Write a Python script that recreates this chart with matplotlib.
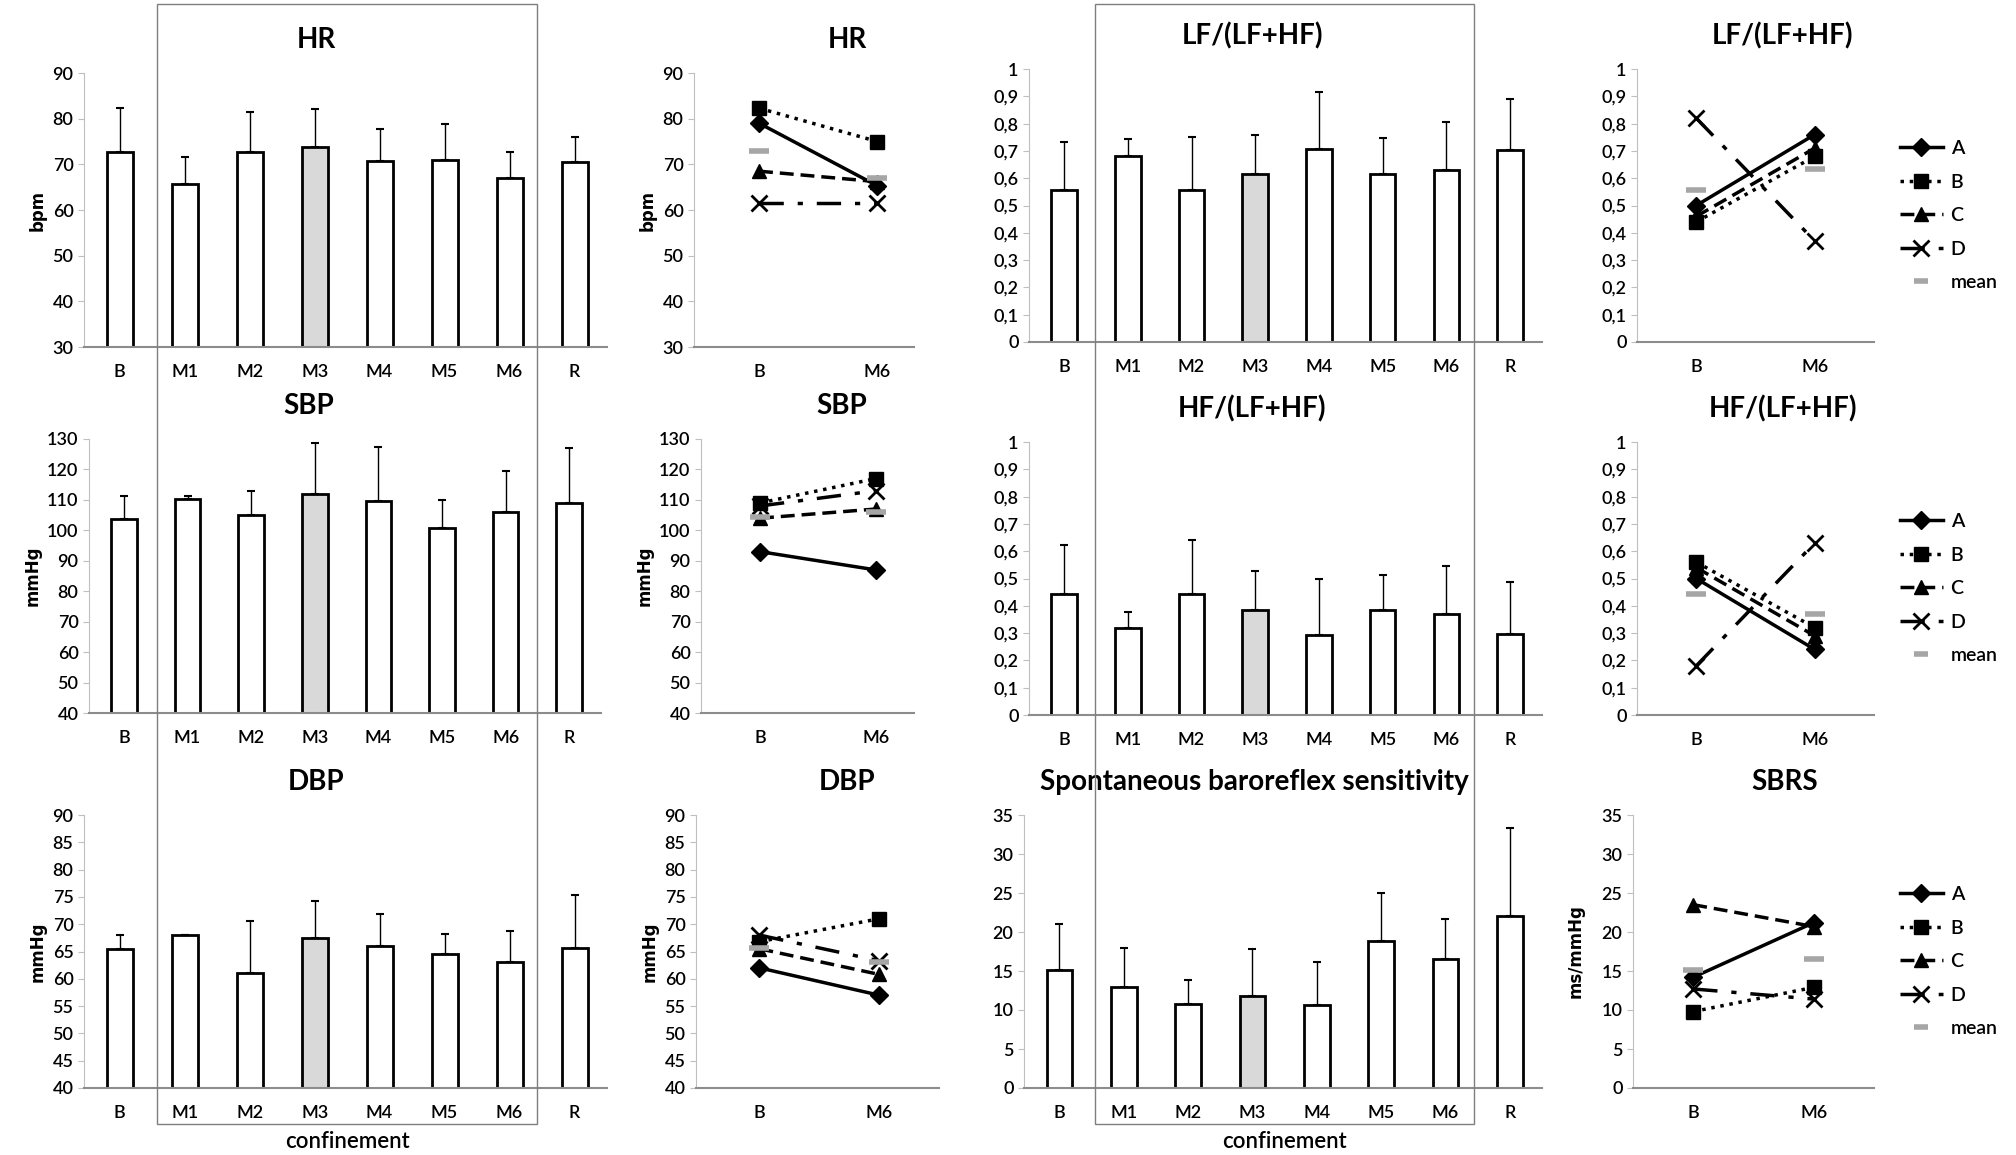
import matplotlib
matplotlib.use("Agg")
import matplotlib.pyplot as plt
from matplotlib.lines import Line2D
from matplotlib.patches import Rectangle

plt.rcParams['font.family'] = ['Lato', 'DejaVu Sans']

# ---- data ----
periods = ["B", "M1", "M2", "M3", "M4", "M5", "M6", "R"]
pair = ["B", "M6"]

hr_mean = [72.8, 65.7, 72.7, 73.7, 70.8, 71.0, 67.0, 70.6]
hr_top = [82.3, 71.5, 81.5, 82.1, 77.7, 78.9, 72.6, 75.9]
sbp_mean = [103.8, 110.3, 105.0, 112.0, 109.5, 100.7, 106.0, 109.0]
sbp_top = [111.2, 111.3, 112.9, 128.6, 127.3, 109.8, 119.4, 127.0]
dbp_mean = [65.5, 68.0, 61.0, 67.5, 66.0, 64.5, 63.0, 65.7]
dbp_top = [68.0, 68.1, 70.6, 74.2, 71.9, 68.2, 68.8, 75.3]
lf_mean = [0.555, 0.683, 0.555, 0.616, 0.708, 0.616, 0.630, 0.702]
lf_top = [0.733, 0.745, 0.752, 0.760, 0.914, 0.747, 0.807, 0.891]
hf_mean = [0.445, 0.317, 0.445, 0.384, 0.292, 0.384, 0.369, 0.298]
hf_top = [0.623, 0.378, 0.642, 0.527, 0.499, 0.513, 0.547, 0.489]
sbrs_mean = [15.1, 12.9, 10.8, 11.8, 10.6, 18.8, 16.6, 22.0]
sbrs_top = [21.0, 17.9, 13.8, 17.8, 16.1, 25.0, 21.7, 33.3]

subjects = ["A", "B", "C", "D"]
hr_subj = {"A": [79.0, 65.3], "B": [82.3, 75.0], "C": [68.5, 66.2], "D": [61.6, 61.6]}
hr_avg = [73.0, 67.1]
sbp_subj = {"A": [93.0, 87.0], "B": [109.0, 117.0], "C": [104.0, 107.0], "D": [108.0, 113.0]}
sbp_avg = [104.3, 106.0]
dbp_subj = {"A": [62.0, 57.0], "B": [66.8, 71.0], "C": [65.5, 60.8], "D": [68.0, 63.3]}
dbp_avg = [65.7, 63.1]
lf_subj = {"A": [0.50, 0.76], "B": [0.44, 0.68], "C": [0.46, 0.71], "D": [0.82, 0.37]}
lf_avg = [0.556, 0.633]
hf_subj = {"A": [0.50, 0.24], "B": [0.56, 0.32], "C": [0.54, 0.29], "D": [0.18, 0.63]}
hf_avg = [0.445, 0.37]
sbrs_subj = {"A": [14.2, 21.2], "B": [9.8, 12.9], "C": [23.5, 20.7], "D": [12.7, 11.4]}
sbrs_avg = [15.1, 16.6]

frac_ticks = [0, 0.1, 0.2, 0.3, 0.4, 0.5, 0.6, 0.7, 0.8, 0.9, 1]
frac_labels = ["0", "0,1", "0,2", "0,3", "0,4", "0,5", "0,6", "0,7", "0,8", "0,9", "1"]

styles = {
    "A": dict(marker="D", linestyle="-", markersize=9),
    "B": dict(marker="s", linestyle=":", markersize=10),
    "C": dict(marker="^", linestyle=(0, (4, 2)), markersize=10),
    "D": dict(marker="x", linestyle=(0, (7, 4, 1.5, 4)), markersize=12, markeredgewidth=2),
}

W, H = 2016, 1155
fig = plt.figure(figsize=(W / 100, H / 100), dpi=100)
GRAY = "#8c8c8c"


def make_ax(l, t, r, b):
    return fig.add_axes([l / W, 1 - b / H, (r - l) / W, (b - t) / H])


def style_ax(ax, title, tx, ylim, yticks, ylabels, ylabel):
    ax.set_ylim(*ylim)
    ax.set_yticks(yticks)
    ax.set_yticklabels(ylabels if ylabels else [str(v) for v in yticks])
    for s in ["top", "right"]:
        ax.spines[s].set_visible(False)
    ax.spines["left"].set_color("#bfbfbf")
    ax.spines["bottom"].set_color(GRAY)
    ax.spines["bottom"].set_linewidth(1.5)
    ax.spines["bottom"].set_zorder(5)
    ax.tick_params(axis="y", colors="#bfbfbf", labelcolor="black", labelsize=13, length=4)
    ax.tick_params(axis="x", length=0, labelsize=13, pad=12)
    for lbl in ax.get_xticklabels() + ax.get_yticklabels():
        lbl.set_fontweight("semibold")
    ax.set_title(title, x=tx, pad=18, fontsize=20, fontweight="bold")
    if ylabel:
        ax.set_ylabel(ylabel, fontsize=12, fontweight="bold", family="DejaVu Sans", labelpad=4)


def bar_panel(rect, means, tops, title, tx, ylim, yticks, ylabels=None, ylabel=None):
    ax = make_ax(*rect)
    x = list(range(len(periods)))
    colors = ["#d9d9d9" if p == "M3" else "white" for p in periods]
    ax.bar(x, [m - ylim[0] for m in means], bottom=ylim[0], width=0.4,
           color=colors, edgecolor="black", linewidth=2)
    ax.errorbar(x, means, yerr=[[0] * len(means), [t - m for t, m in zip(tops, means)]],
                fmt="none", ecolor="black", elinewidth=1, capsize=3, capthick=1.5)
    ax.set_xticks(x)
    ax.set_xticklabels(periods)
    ax.set_xlim(-0.55, 7.5)
    style_ax(ax, title, tx, ylim, yticks, ylabels, ylabel)
    return ax


def line_panel(rect, subj, avg, title, tx, ylim, yticks, xlim, ylabels=None, ylabel=None):
    ax = make_ax(*rect)
    x = [0, 1]
    for s in subjects:
        ax.plot(x, subj[s], color="black", linewidth=2.5, **styles[s])
    ax.plot(x, avg, linestyle="none", marker="_", markersize=14, markeredgewidth=4,
            color="#a6a6a6")
    ax.set_xticks(x)
    ax.set_xticklabels(pair)
    ax.set_xlim(*xlim)
    style_ax(ax, title, tx, ylim, yticks, ylabels, ylabel)
    return ax


def add_legend(top_px):
    handles = [Line2D([], [], color="black", linewidth=2.5, **styles[s]) for s in subjects]
    handles.append(Line2D([], [], linestyle="none", marker="_", markersize=10,
                          markeredgewidth=4, color="#a6a6a6"))
    leg = fig.legend(handles, subjects + ["mean"], loc="upper left",
                     bbox_to_anchor=(1900 / W, 1 - top_px / H), frameon=False,
                     fontsize=14, handlelength=2.2, labelspacing=0.85, handletextpad=0.4,
                     borderaxespad=0, borderpad=0)
    for t in leg.get_texts():
        t.set_fontweight("semibold")


# row 1
bar_panel((84, 73, 607, 347), hr_mean, hr_top, "HR", 0.445, (30, 90), list(range(30, 91, 10)), ylabel="bpm")
line_panel((694, 73, 914, 347), hr_subj, hr_avg, "HR", 0.695, (30, 90), list(range(30, 91, 10)),
           (-0.55, 1.31), ylabel="bpm")
bar_panel((1029, 69, 1542, 342), lf_mean, lf_top, "LF/(LF+HF)", 0.435, (0, 1), frac_ticks, frac_labels)
line_panel((1637, 69, 1874, 342), lf_subj, lf_avg, "LF/(LF+HF)", 0.616, (0, 1), frac_ticks,
           (-0.5, 1.5), frac_labels)
add_legend(140)

# row 2
bar_panel((89, 439, 601, 713), sbp_mean, sbp_top, "SBP", 0.43, (40, 130), list(range(40, 131, 10)), ylabel="mmHg")
line_panel((701, 439, 914, 713), sbp_subj, sbp_avg, "SBP", 0.66, (40, 130), list(range(40, 131, 10)),
           (-0.51, 1.33), ylabel="mmHg")
bar_panel((1029, 442, 1542, 715), hf_mean, hf_top, "HF/(LF+HF)", 0.435, (0, 1), frac_ticks, frac_labels)
line_panel((1637, 442, 1874, 715), hf_subj, hf_avg, "HF/(LF+HF)", 0.616, (0, 1), frac_ticks,
           (-0.5, 1.5), frac_labels)
add_legend(513)

# row 3
bar_panel((84, 815, 607, 1088), dbp_mean, dbp_top, "DBP", 0.444, (40, 90), list(range(40, 91, 5)), ylabel="mmHg")
line_panel((696, 815, 939, 1088), dbp_subj, dbp_avg, "DBP", 0.62, (40, 90), list(range(40, 91, 5)),
           (-0.53, 1.5), ylabel="mmHg")
bar_panel((1024, 815, 1542, 1088), sbrs_mean, sbrs_top, "Spontaneous baroreflex sensitivity", 0.444,
          (0, 35), list(range(0, 36, 5)))
line_panel((1633, 815, 1874, 1088), sbrs_subj, sbrs_avg, "SBRS", 0.63, (0, 35), list(range(0, 36, 5)),
           (-0.5, 1.5), ylabel="ms/mmHg")
add_legend(886)
fig.axes[-1].yaxis.set_label_coords(-0.2, 0.5)

# confinement frames
for l, r in [(157, 537), (1095, 1474)]:
    fig.add_artist(Rectangle((l / W, 1 - 1124 / H), (r - l) / W, 1120 / H, transform=fig.transFigure,
                             fill=False, edgecolor="#7f7f7f", linewidth=1, zorder=10))
    fig.text((l + r) / 2 / W, 1 - 1142 / H, "confinement", ha="center", va="center",
             fontsize=16, fontweight="semibold")

fig.savefig("out.png", dpi=100, facecolor="white")
